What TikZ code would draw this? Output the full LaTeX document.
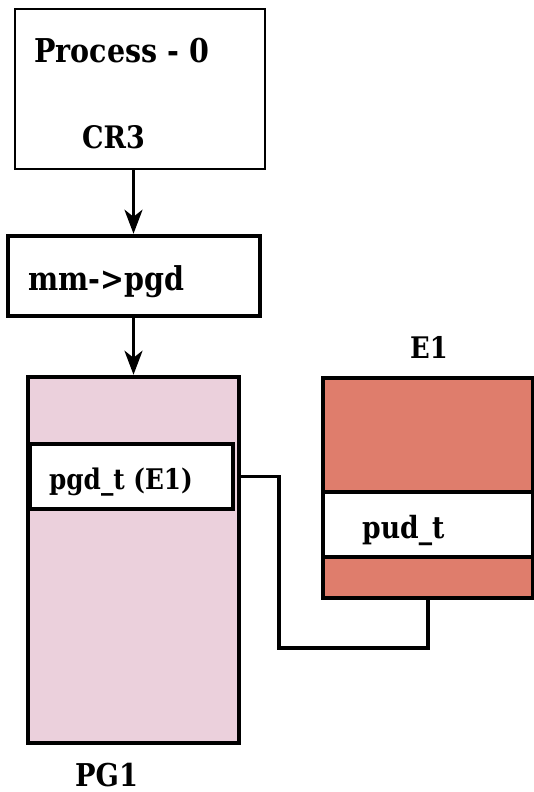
\documentclass[tikz,border=0pt]{standalone}
\usepackage{fontspec}
\setmainfont[FakeStretch=0.87]{DejaVu Serif}
\usetikzlibrary{arrows.meta,calc}
\definecolor{pgpink}{RGB}{235,208,220}
\definecolor{entsalmon}{RGB}{223,125,108}
\tikzset{
  box/.style={draw=black, line width=4.5pt, fill=white, inner sep=0pt},
  thinbox/.style={draw=black, line width=1.6pt, fill=white, inner sep=0pt},
  lbl/.style={inner sep=0pt, anchor=base west, font=\bfseries},
  arr/.style={line width=3.3pt, -{Stealth[length=24pt,width=18pt,inset=7pt]}},
  conn/.style={line width=3.5pt},
}
\begin{document}
\begin{tikzpicture}[x=1pt,y=-1pt]
\useasboundingbox (0,0) rectangle (534,792);

% process descriptor
\node[thinbox, minimum width=250, minimum height=160] (proc) at (140,89) {};
\node[lbl, font=\bfseries\fontsize{32.8}{36}\selectfont] (ptxt) at (34,63) {Process - 0};
\node[lbl, font=\bfseries\fontsize{31}{34}\selectfont] (cr3) at (82,148) {CR3};

% mm->pgd
\node[box, minimum width=252, minimum height=80] (mm) at (134,276) {};
\node[lbl, font=\bfseries\fontsize{32.8}{36}\selectfont] (mmtxt) at (28,290) {mm->pgd};

% page global directory
\node[box, fill=pgpink, minimum width=211, minimum height=366] (pg1) at (133.5,560) {};
\node[box, minimum width=203, minimum height=65] (pgdt) at (131.5,476.5) {};
\node[lbl, font=\bfseries\fontsize{28.4}{32}\selectfont] (pgdtxt) at (49,489) {pgd\_t (E1)};
\node[lbl, font=\bfseries\fontsize{31.4}{34}\selectfont] (pg1txt) at (75,786) {PG1};

% entry table E1
\node[box, fill=entsalmon, minimum width=210, minimum height=220] (e1) at (428,488) {};
\node[box, minimum width=210, minimum height=65] (pud) at (428,524.5) {};
\node[lbl, font=\bfseries\fontsize{30.6}{34}\selectfont] (pudtxt) at (362,538) {pud\_t};
\node[lbl, font=\bfseries\fontsize{29.7}{32}\selectfont] (e1txt) at (410,358) {E1};

% arrows
\draw[arr] (proc.south -| pg1.north) -- (mm.north -| pg1.north);
\draw[arr] (mm.south -| pg1.north) -- (pg1.north);

% pointer from pgd_t to E1
\coordinate (bend) at (279,648);
\draw[conn] (pgdt.east -| pg1.east) -| (bend) -| (e1.south);
\end{tikzpicture}
\end{document}
